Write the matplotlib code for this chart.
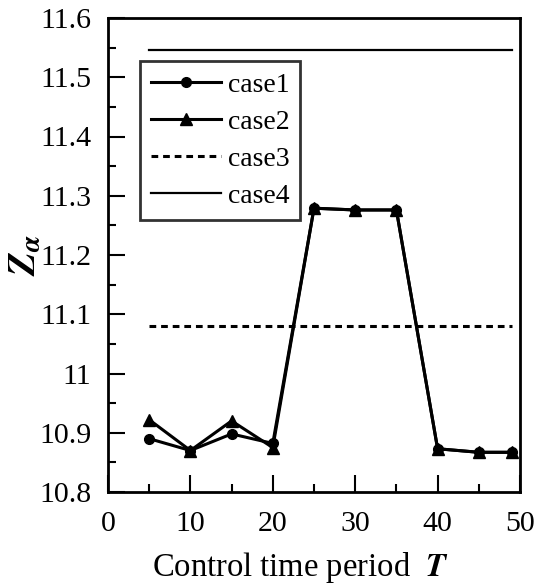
import matplotlib
matplotlib.use("Agg")
import matplotlib.pyplot as plt
from matplotlib.ticker import MultipleLocator

plt.rcParams['font.family'] = ['Liberation Serif', 'DejaVu Serif']
plt.rcParams['mathtext.fontset'] = 'stix'

# Data
T = [5, 10, 15, 20, 25, 30, 35, 40, 45, 49]
case1 = [10.890, 10.870, 10.898, 10.882, 11.279, 11.276, 11.276, 10.873, 10.867, 10.867]
case2 = [10.922, 10.870, 10.920, 10.875, 11.279, 11.276, 11.276, 10.873, 10.867, 10.867]
case3_x = [5, 49]
case3_y = [11.081, 11.081]
case4_x = [5, 49]
case4_y = [11.546, 11.546]

fig = plt.figure(figsize=(5.35, 5.87), dpi=100)
ax = fig.add_axes([108 / 535, 1 - 492 / 587, 412 / 535, 474 / 587])

ax.plot(T, case1, color='black', lw=2.2, marker='o', ms=7, label='case1')
ax.plot(T, case2, color='black', lw=2.2, marker='^', ms=8.5, label='case2')
ax.plot(case3_x, case3_y, color='black', lw=2.2, ls=(0, (2.2, 1.6)), label='case3')
ax.plot(case4_x, case4_y, color='black', lw=1.6, label='case4')

ax.set_xlim(0, 50)
ax.set_ylim(10.8, 11.6)
ax.xaxis.set_major_locator(MultipleLocator(10))
ax.xaxis.set_minor_locator(MultipleLocator(5))
ax.yaxis.set_minor_locator(MultipleLocator(0.05))
ax.set_yticks([10.8, 10.9, 11.0, 11.1, 11.2, 11.3, 11.4, 11.5, 11.6])
ax.set_yticklabels(['10.8', '10.9', '11', '11.1', '11.2', '11.3', '11.4', '11.5', '11.6'])

ax.tick_params(which='major', direction='in', length=12, width=1.5, labelsize=21.5, top=False, right=False)
ax.tick_params(which='minor', direction='in', length=6, width=1.5, top=False, right=False)
ax.tick_params(axis='y', which='major', pad=12)
ax.tick_params(axis='x', which='major', pad=14)

for side in ['left', 'bottom', 'right', 'top']:
    ax.spines[side].set_linewidth(2)

ax.set_xlabel(r'Control time period  $\mathbfit{T}$', fontsize=23.5)
ax.xaxis.set_label_coords(0.468, -0.122)
ax.set_ylabel(r'$\mathbfit{Z_\alpha}$', fontsize=28, labelpad=-4)

leg = ax.legend(loc='upper left', bbox_to_anchor=(0.078, 0.909), fontsize=20,
                frameon=True, fancybox=False, edgecolor='black', handlelength=2.5,
                borderpad=0.4, labelspacing=0.42, handletextpad=0.25,
                borderaxespad=0)
leg.get_frame().set_linewidth(2)

fig.savefig('out.png', dpi=100)
